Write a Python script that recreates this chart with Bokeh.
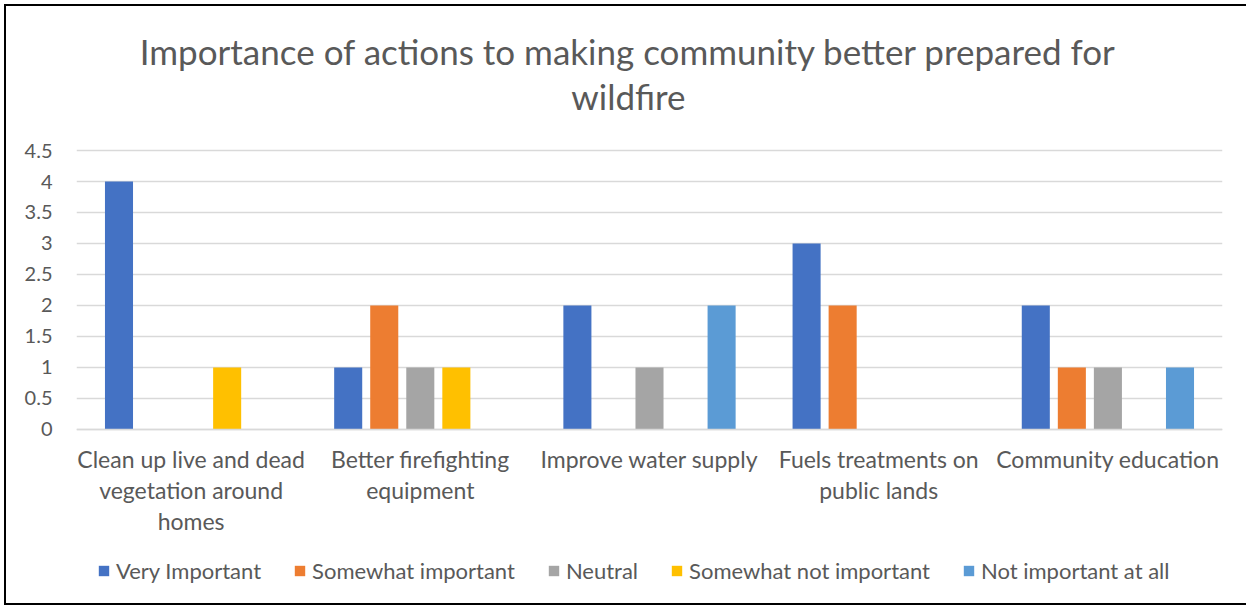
from bokeh.plotting import figure
from bokeh.models import FactorRange, Legend, LegendItem, Label, ColumnDataSource, NumeralTickFormatter, FixedTicker
from bokeh.transform import dodge
from bokeh.embed import file_html
from bokeh.resources import INLINE

categories = [
    "Clean up live and dead\nvegetation around\nhomes",
    "Better firefighting\nequipment",
    "Improve water supply",
    "Fuels treatments on\npublic lands",
    "Community education",
]
series_names = ["Very Important", "Somewhat important", "Neutral",
                "Somewhat not important", "Not important at all"]
very_important = [4, 1, 2, 3, 2]
somewhat_important = [0, 2, 0, 2, 1]
neutral = [0, 1, 1, 0, 1]
somewhat_not_important = [1, 1, 0, 0, 0]
not_important_at_all = [0, 0, 2, 0, 1]
colors = ["#4472C4", "#ED7D31", "#A5A5A5", "#FFC000", "#5B9BD5"]
y_ticks = [0, 0.5, 1, 1.5, 2, 2.5, 3, 3.5, 4, 4.5]
title_lines = ["Importance of actions to making community better prepared for", "wildfire"]

series = [very_important, somewhat_important, neutral, somewhat_not_important, not_important_at_all]
keys = ["s0", "s1", "s2", "s3", "s4"]
data = {"cat": categories}
for k, s in zip(keys, series):
    data[k] = s
source = ColumnDataSource(data)

FONT = "Lato"
TXT = "#595959"
GRID = "#D9D9D9"

# frame spans the whole canvas height; value axis 0..4.5 occupies the middle band
p = figure(x_range=FactorRange(*categories), y_range=(-2.874, 6.824),
           width=1242, height=601, output_backend="svg", toolbar_location=None,
           min_border_left=70, min_border_right=26, min_border_top=0,
           min_border_bottom=0, title=None)
p.outline_line_color = None

pitch = 0.1573
bw = 0.1224
renderers = []
for i, (k, c) in enumerate(zip(keys, colors)):
    r = p.vbar(x=dodge("cat", (i - 2) * pitch, range=p.x_range), top=k, width=bw,
               source=source, fill_color=c, line_color=None)
    renderers.append(r)

p.xgrid.grid_line_color = None
p.ygrid.grid_line_color = GRID
p.ygrid.grid_line_width = 1.5
p.yaxis.ticker = FixedTicker(ticks=y_ticks)
p.yaxis.formatter = NumeralTickFormatter(format="0.[0]")
p.yaxis.axis_line_color = None
p.yaxis.major_tick_line_color = None
p.yaxis.minor_tick_line_color = None
p.yaxis.major_tick_out = 0
p.yaxis.major_label_standoff = 24
p.yaxis.major_label_text_font = FONT
p.yaxis.major_label_text_font_size = "20px"
p.yaxis.major_label_text_color = TXT

p.xaxis.fixed_location = 0
p.xaxis.axis_line_color = GRID
p.xaxis.axis_line_width = 1.5
p.xaxis.major_tick_line_color = None
p.xaxis.major_tick_out = 0
p.xaxis.major_label_standoff = 16
p.xaxis.major_label_text_font = FONT
p.xaxis.major_label_text_font_size = "23px"
p.xaxis.major_label_text_color = TXT
p.xaxis.major_label_text_line_height = 1.1
p.xaxis.major_label_text_align = "center"

legend = Legend(items=[LegendItem(label=n, renderers=[r]) for n, r in zip(series_names, renderers)],
                orientation="horizontal", location=(21, 23),
                label_text_font=FONT, label_text_font_size="22px", label_text_color=TXT,
                glyph_width=13, glyph_height=13, spacing=32, label_standoff=6,
                border_line_color=None, padding=0, margin=0, background_fill_alpha=0)
p.add_layout(legend, "center")

# title lines, centred over the chart area (synthetic categorical x coordinate)
for txt, yv in zip(title_lines, [6.113, 5.387]):
    p.add_layout(Label(x=2.408, y=yv, text=txt, text_align="center", text_baseline="middle",
                       text_font=FONT, text_font_size="35px", text_color=TXT))

p.styles = {"border-left": "2px solid black", "border-top": "2px solid black",
            "border-bottom": "2px solid black", "margin-left": "4px", "margin-top": "4px"}

open("out.html", "w").write(file_html(p, INLINE))
